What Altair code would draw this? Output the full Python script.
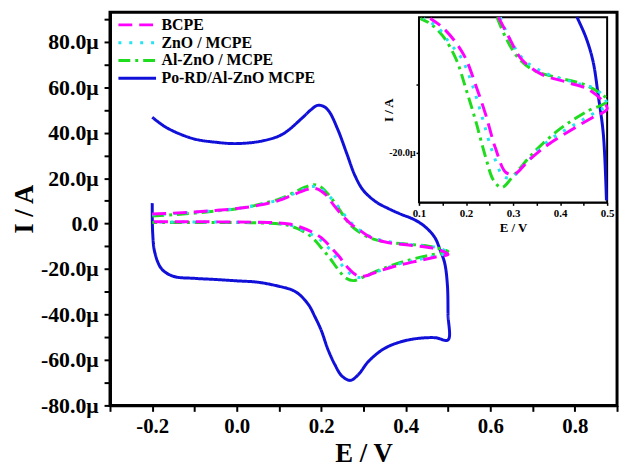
import altair as alt
import pandas as pd

# ---------------- data ----------------
series_names = ["BCPE", "ZnO / MCPE", "Al-ZnO / MCPE", "Po-RD/Al-ZnO MCPE"]
colors = ["#ff00ff", "#22e4f2", "#1fdc1f", "#1010d8"]
dashes = [[14, 7], [3, 8], [12, 5, 3, 5], [1, 0]]

E_bcpe = [-0.2, -0.15, -0.1, -0.05, 0.0, 0.05, 0.1, 0.13, 0.16, 0.175, 0.19, 0.21, 0.23, 0.25, 0.269,
          0.29, 0.318, 0.36, 0.415, 0.464, 0.5, 0.471, 0.429, 0.374, 0.332, 0.304, 0.285, 0.2625, 0.242,
          0.221, 0.2, 0.179, 0.15, 0.124, 0.1, 0.05, 0.0, -0.1, -0.2]
I_bcpe = [4.2, 4.6, 5.1, 5.8, 6.6, 8.0, 10.2, 12.4, 14.6, 15.4, 15.3, 12.8, 8.0, 3.5, 0.0,
          -2.8, -6.2, -8.4, -9.6, -10.8, -13.5, -14.7, -16.4, -18.8, -21.2, -23.1, -22.9, -19.3, -14.4,
          -10.1, -6.2, -3.8, -1.5, -0.2, 0.3, 0.6, 0.7, 0.8, 0.8]

E_zno = [-0.2, -0.15, -0.1, -0.05, 0.0, 0.05, 0.1, 0.13, 0.16, 0.18, 0.195, 0.215, 0.235, 0.255, 0.273,
         0.294, 0.325, 0.374, 0.429, 0.478, 0.5, 0.478, 0.429, 0.374, 0.325, 0.297, 0.28, 0.256, 0.235,
         0.214, 0.19, 0.165, 0.14, 0.11, 0.08, 0.0, -0.1, -0.2]
I_zno = [3.9, 4.4, 5.0, 5.7, 6.6, 8.2, 10.5, 12.8, 15.2, 16.3, 15.9, 12.8, 8.6, 3.8, 0.0,
         -3.3, -6.4, -8.4, -9.6, -10.7, -13.0, -13.9, -15.9, -18.3, -21.7, -23.6, -23.5, -19.8, -14.9,
         -10.1, -6.0, -3.8, -1.5, -0.2, 0.3, 0.6, 0.7, 0.7]

E_alzno = [-0.2, -0.15, -0.1, -0.05, 0.0, 0.05, 0.1, 0.13, 0.16, 0.18, 0.195, 0.215, 0.235, 0.252, 0.266,
           0.283, 0.311, 0.346, 0.394, 0.457, 0.5, 0.457, 0.401, 0.346, 0.304, 0.276, 0.259, 0.242, 0.221,
           0.2, 0.179, 0.151, 0.125, 0.103, 0.05, 0.0, -0.1, -0.2]
I_alzno = [3.3, 3.9, 4.6, 5.5, 6.5, 8.3, 10.8, 13.2, 15.9, 17.1, 16.6, 13.2, 8.4, 3.6, 0.0,
           -2.8, -6.0, -7.9, -8.9, -10.1, -12.3, -13.9, -16.4, -19.8, -23.1, -25.1, -24.1, -20.7, -15.4,
           -10.6, -6.2, -2.8, -1.0, -0.2, 0.3, 0.5, 0.5, 0.5]

E_pord = [-0.2, -0.166, -0.104, -0.05, 0.0, 0.061, 0.108, 0.155, 0.175, 0.191, 0.205, 0.218, 0.24, 0.26,
          0.28, 0.30, 0.33, 0.36, 0.39, 0.415, 0.436, 0.455, 0.47, 0.481, 0.492, 0.4985, 0.5, 0.5,
          0.469, 0.406, 0.351, 0.312, 0.288, 0.269, 0.249, 0.232, 0.215, 0.2, 0.185, 0.171, 0.15, 0.132,
          0.1, 0.05, 0.0, -0.05, -0.1, -0.15, -0.178, -0.194, -0.199, -0.2]
I_pord = [46.8, 42.2, 37.4, 35.8, 35.2, 36.4, 39.3, 46.5, 50.0, 52.0, 51.6, 49.5, 41.0, 31.0,
          21.0, 14.5, 9.5, 6.5, 4.0, 2.2, 0.0, -3.0, -6.5, -11.5, -17.3, -27.0, -40.0, -51.2,
          -50.2, -51.2, -54.8, -60.6, -66.4, -69.0, -67.1, -62.0, -55.0, -47.0, -41.0, -36.0, -31.5, -29.3,
          -27.6, -25.8, -25.2, -24.6, -24.1, -23.2, -19.9, -12.7, -4.1, 9.0]

x_domain = [-0.3, 0.9]
y_domain = [-80, 93]
x_ticks = [-0.3, -0.2, -0.1, 0.0, 0.1, 0.2, 0.3, 0.4, 0.5, 0.6, 0.7, 0.8, 0.9]
y_ticks = [-80, -70, -60, -50, -40, -30, -20, -10, 0, 10, 20, 30, 40, 50, 60, 70, 80, 90]

inset_x_domain = [0.1, 0.5]
inset_y_domain = [-27.3, 0.0]
inset_x_ticks = [0.1, 0.15, 0.2, 0.25, 0.3, 0.35, 0.4, 0.45, 0.5]
inset_y_ticks = [-20, -10]

# ---------------- frames ----------------
def frame(name, E, I):
    return pd.DataFrame({"series": name, "E": E, "I": I, "k": list(range(len(E)))})

curves = [
    (series_names[0], E_bcpe, I_bcpe),
    (series_names[1], E_zno, I_zno),
    (series_names[2], E_alzno, I_alzno),
    (series_names[3], E_pord, I_pord),
]
dfs = {n: frame(n, e, i) for n, e, i in curves}

FONT = "Liberation Serif"
W, H = 512, 397

x_axis = alt.Axis(
    values=x_ticks, title="E / V", orient="bottom", grid=False,
    labelExpr="abs(round(datum.value*10)) % 2 == 0 ? ((datum.value < 0 ? '-' : '') + format(abs(datum.value), '.1f')) : ''",
    domainColor="black", domainWidth=3, tickColor="black", tickWidth=2, tickSize=6,
    labelFont=FONT, labelFontWeight="bold", labelFontSize=21, labelColor="black", labelPadding=4,
    labelFlush=False, labelOverlap=False,
    titleFont=FONT, titleFontWeight="bold", titleFontSize=27, titleColor="black",
    titleY=49, titleBaseline="middle",
)
y_axis = alt.Axis(
    values=y_ticks, title="I / A", orient="left", grid=False,
    labelExpr="datum.value % 20 == 0 ? (datum.value == 0 ? '0.0' : ((datum.value < 0 ? '-' : '') + format(abs(datum.value), '.1f') + 'μ')) : ''",
    domainColor="black", domainWidth=3, tickColor="black", tickWidth=2, tickSize=6,
    labelFont=FONT, labelFontWeight="bold", labelFontSize=22, labelColor="black", labelPadding=6,
    labelFlush=False, labelOverlap=False,
    titleFont=FONT, titleFontWeight="bold", titleFontSize=27, titleColor="black",
    titleX=-86, titleBaseline="middle",
)

x_scale = alt.Scale(domain=x_domain, nice=False, zero=False)
y_scale = alt.Scale(domain=y_domain, nice=False, zero=False)
color_scale = alt.Scale(domain=series_names, range=colors)
dash_scale = alt.Scale(domain=series_names, range=dashes)

legend = alt.Legend(
    title=None, orient="none", legendX=7, legendY=4, padding=0,
    symbolType="stroke", symbolSize=1444, symbolStrokeWidth=3, clipHeight=17.5, rowPadding=0,
    labelFont=FONT, labelFontWeight="bold", labelFontSize=16, labelColor="black", labelOffset=4,
)

draw_order = [series_names[3], series_names[2], series_names[1], series_names[0]]

main_layers = []
for name in draw_order:
    main_layers.append(
        alt.Chart(dfs[name]).mark_line(strokeWidth=3, interpolate="catmull-rom").encode(
            x=alt.X("E:Q", scale=x_scale, axis=x_axis),
            y=alt.Y("I:Q", scale=y_scale, axis=y_axis),
            color=alt.Color("series:N", scale=color_scale, legend=legend),
            strokeDash=alt.StrokeDash("series:N", scale=dash_scale, legend=legend),
            order=alt.Order("k:Q"),
        )
    )
main = alt.layer(*main_layers)

# ---------------- inset ----------------
ix_scale = alt.Scale(domain=inset_x_domain, range=[312, 502], nice=False, zero=False)
iy_scale = alt.Scale(domain=inset_y_domain, range=[192, 5], nice=False, zero=False)

ix_axis = alt.Axis(
    values=inset_x_ticks, title="E / V", orient="bottom", offset=-(H - 192), grid=False,
    labelExpr="round(datum.value*100) % 10 == 0 ? format(datum.value, '.1f') : ''",
    domainColor="black", domainWidth=2, tickColor="black", tickWidth=1.5, tickSize=3,
    labelFont=FONT, labelFontWeight="bold", labelFontSize=11, labelColor="black", labelPadding=2,
    labelFlush=False, labelOverlap=False,
    titleFont=FONT, titleFontWeight="bold", titleFontSize=13, titleColor="black", titlePadding=3,
)
iy_axis = alt.Axis(
    values=inset_y_ticks, title="I / A", orient="left", offset=-312, grid=False,
    labelExpr="datum.value == -20 ? '-20.0μ' : ''",
    domainColor="black", domainWidth=2, tickColor="black", tickWidth=1.5, tickSize=3,
    labelFont=FONT, labelFontWeight="bold", labelFontSize=10, labelColor="black", labelPadding=1,
    labelFlush=False, labelOverlap=False,
    titleFont=FONT, titleFontWeight="bold", titleFontSize=13, titleColor="black",
    titleX=-31, titleBaseline="middle",
)

inset_frame = pd.DataFrame({
    "x0": [inset_x_domain[0]], "x1": [inset_x_domain[1]],
    "y0": [inset_y_domain[0]], "y1": [inset_y_domain[1]],
})
inset_layers = [
    alt.Chart(inset_frame).mark_rect(fill="white", stroke="black", strokeWidth=2).encode(
        x=alt.X("x0:Q", scale=ix_scale, axis=ix_axis),
        x2="x1:Q",
        y=alt.Y("y0:Q", scale=iy_scale, axis=iy_axis),
        y2="y1:Q",
    )
]
for name in draw_order:
    idx = series_names.index(name)
    inset_layers.append(
        alt.Chart(dfs[name]).transform_filter(
            (alt.datum.E >= inset_x_domain[0]) & (alt.datum.I <= inset_y_domain[1]) & (alt.datum.I >= inset_y_domain[0])
        ).mark_line(strokeWidth=3, interpolate="catmull-rom").encode(
            x=alt.X("E:Q", scale=ix_scale, axis=ix_axis),
            y=alt.Y("I:Q", scale=iy_scale, axis=iy_axis),
            color=alt.value(colors[idx]),
            strokeDash=alt.value(dashes[idx]),
            order=alt.Order("k:Q"),
        )
    )
inset = alt.layer(*inset_layers)

chart = alt.layer(main, inset).resolve_scale(
    x="independent", y="independent"
).properties(
    width=W, height=H,
    padding={"left": 103, "top": 2, "right": 4, "bottom": 67},
    autosize=alt.AutoSizeParams(type="none"),
    background="white",
).configure_view(stroke="black", strokeWidth=3)

chart.save("out.html", embed_options={"renderer": "svg", "actions": False})
